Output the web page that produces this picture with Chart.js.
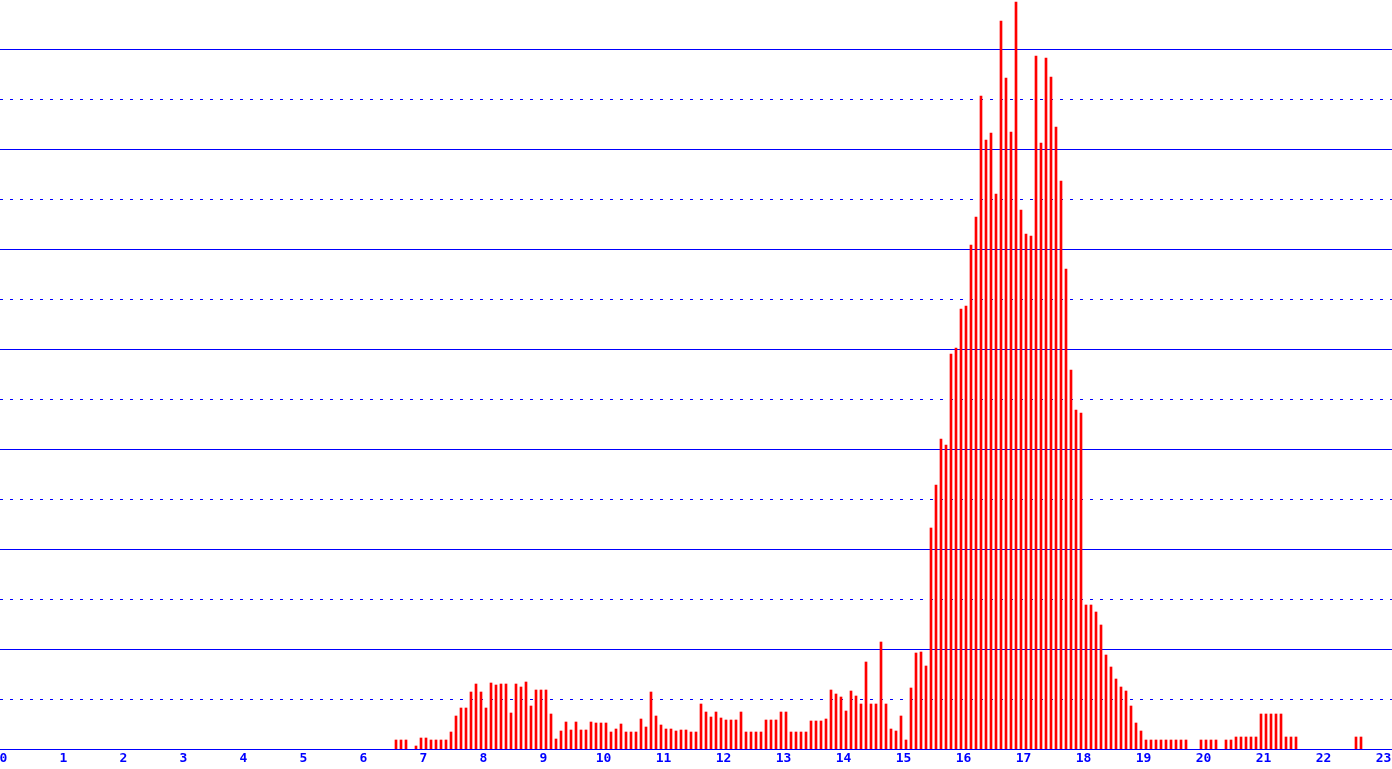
<!DOCTYPE html>
<html>
<head>
<meta charset="utf-8">
<script src="https://cdn.jsdelivr.net/npm/chart.js@4/dist/chart.umd.min.js"></script>
<style>
  html, body { margin: 0; padding: 0; background: #fff; }
  #wrap { width: 1392px; height: 769px; }
</style>
</head>
<body>
<div id="wrap"><canvas id="histChart" width="1392" height="769"></canvas></div>
<script>
// 5-minute bins, first bar is the 6:30 bin
const firstBinHour = 6.5;
const binsPerHour = 12;

const binHeights = [
  9, 9, 9, 0, 3, 11, 11, 9, 9, 9, 9, 17,
  33, 41, 41, 57, 65, 57, 41, 66, 64, 65, 65, 36,
  65, 62, 67, 43, 59, 59, 59, 35, 10, 18, 27, 19,
  27, 19, 19, 27, 26, 26, 26, 17, 20, 25, 17, 17,
  17, 30, 22, 57, 33, 24, 20, 20, 18, 19, 19, 17,
  17, 45, 37, 32, 37, 31, 29, 29, 29, 37, 17, 17,
  17, 17, 29, 29, 29, 37, 37, 17, 17, 17, 17, 28,
  28, 28, 30, 59, 55, 52, 38, 58, 53, 45, 87, 45,
  45, 107, 45, 20, 18, 33, 9, 61, 96, 97, 83, 221,
  264, 310, 304, 395, 401, 440, 443, 504, 532, 653, 609, 616,
  555, 728, 671, 617, 747, 539, 515, 513, 693, 606, 691, 672,
  622, 568, 480, 379, 339, 336, 144, 144, 137, 124, 94, 82,
  70, 62, 58, 43, 26, 18, 9, 9, 9, 9, 9, 9,
  9, 9, 9, 0, 0, 9, 9, 9, 9, 0, 9, 9,
  12, 12, 12, 12, 12, 35, 35, 35, 35, 35, 12, 12,
  12, 0, 0, 0, 0, 0, 0, 0, 0, 0, 0, 0,
  12, 12
];

const hourTicks = [0, 1, 2, 3, 4, 5, 6, 7, 8, 9, 10, 11, 12, 13, 14, 15, 16, 17, 18, 19, 20, 21, 22, 23];

const yMax = 749;
const yGridStep = 50;
const xMin = -3.5 / 60;
const xMax = xMin + 1392 / 60;

// horizontal rules: solid / dotted alternating, drawn under the bars
const gridLines = {
  id: 'gridLines',
  beforeDatasetsDraw(chart) {
    const { ctx, chartArea, scales } = chart;
    ctx.save();
    ctx.strokeStyle = '#0000ff';
    ctx.lineWidth = 1;
    for (let v = 0; v < yMax; v += yGridStep) {
      const y = Math.round(scales.y.getPixelForValue(v)) + 0.5;
      ctx.setLineDash((v / yGridStep) % 2 ? [3, 7] : []);
      ctx.beginPath();
      ctx.moveTo(chartArea.left, y);
      ctx.lineTo(chartArea.right, y);
      ctx.stroke();
    }
    ctx.restore();
  }
};

// empty bins get no bar at all
const points = binHeights.map((h, i) => ({ x: firstBinHour + (i + 0.5) / binsPerHour, y: h > 0 ? h : null }));

const ctx = document.getElementById('histChart').getContext('2d');
const chart = new Chart(ctx, {
  type: 'bar',
  data: {
    datasets: [{
      data: points,
      backgroundColor: '#ff0000',
      borderWidth: 0,
      barThickness: 2
    }]
  },
  options: {
    responsive: false,
    animation: false,
    layout: { padding: 0 },
    plugins: {
      legend: { display: false },
      tooltip: { enabled: false }
    },
    scales: {
      x: {
        type: 'linear',
        offset: false,
        min: xMin,
        max: xMax,
        grid: { display: false, drawTicks: false, offset: false },
        border: { display: false },
        ticks: {
          color: '#0000ff',
          padding: 2,
          autoSkip: false,
          maxRotation: 0,
          font: { family: 'DejaVu Sans Mono', size: 13, weight: 'bold' },
          callback: (value) => String(value)
        },
        afterBuildTicks: (scale) => {
          scale.ticks = hourTicks.map(v => ({ value: v }));
        },
        afterFit: (scale) => {
          scale.height = 20;
          scale.paddingLeft = 0;
          scale.paddingRight = 0;
        }
      },
      y: {
        display: false,
        min: 0,
        max: yMax
      }
    }
  },
  plugins: [gridLines]
});
</script>
</body>
</html>
